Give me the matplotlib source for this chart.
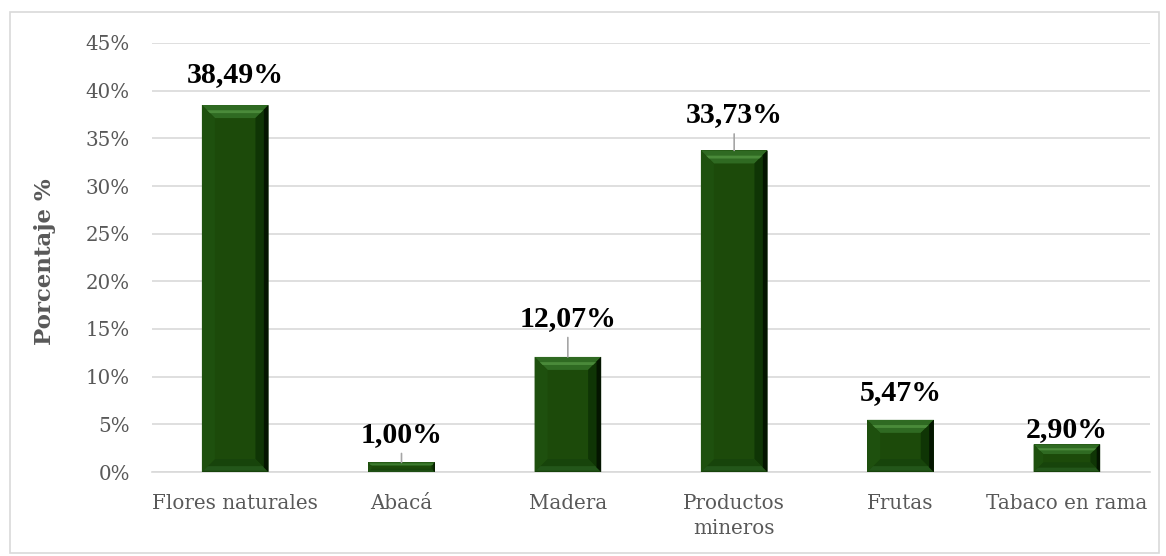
import matplotlib
matplotlib.use("Agg")
import matplotlib.pyplot as plt
from matplotlib.patches import Polygon, Rectangle
from matplotlib.ticker import FuncFormatter, MultipleLocator

# data
CATEGORIES = ["Flores naturales", "Abacá", "Madera", "Productos\nmineros", "Frutas", "Tabaco en rama"]
VALUES = [38.49, 1.00, 12.07, 33.73, 5.47, 2.90]

# label placement (points above the bar top) and which labels get a leader line
LABEL_OFFSETS = [16.5, 14.8, 22.3, 20.2, 14.4, 5.0]
LEADERS = [False, True, True, True, False, False]

GREEN = "#1c4a0a"
GRID = "#d9d9d9"
TEXT_GRAY = "#595959"
TICK_FONT = "DejaVu Serif"
LABEL_FONT = "Liberation Serif"


def bevel(axis, rect, size_px=13):
    x0, y0 = rect.get_xy()
    (X0, Y0), (X1, Y1) = axis.transData.transform([(x0, y0), (x0 + rect.get_width(), y0 + rect.get_height())])
    b = min(size_px, (Y1 - Y0) * 0.35)
    inv = axis.transData.inverted()

    facets = [
        ([(X0, Y1), (X1, Y1), (X1 - b, Y1 - b), (X0 + b, Y1 - b)], "#2f6a22"),
        ([(X1, Y1), (X1, Y0), (X1 - b, Y0 + b), (X1 - b, Y1 - b)], "#0f3505"),
        ([(X0, Y0), (X1, Y0), (X1 - b, Y0 + b), (X0 + b, Y0 + b)], "#17440b"),
        ([(X0, Y1), (X0 + b, Y1 - b), (X0 + b, Y0 + b), (X0, Y0)], "#1e500e"),
        # highlight stripe on the top facet
        ([(X0 + b * 0.4, Y1 - b * 0.4), (X1 - b * 0.4, Y1 - b * 0.4),
          (X1 - b * 0.62, Y1 - b * 0.62), (X0 + b * 0.62, Y1 - b * 0.62)], "#4a8a3a"),
        # lighter band along the bottom edge
        ([(X0 + b * 0.1, Y0 + b * 0.1), (X1 - b * 0.1, Y0 + b * 0.1),
          (X1 - b * 0.45, Y0 + b * 0.45), (X0 + b * 0.45, Y0 + b * 0.45)], "#23561a"),
        # dark outer strip on the right side
        ([(X1, Y1), (X1, Y0), (X1 - b * 0.35, Y0 + b * 0.35), (X1 - b * 0.35, Y1 - b * 0.35)], "#041500"),
    ]
    for pts, color in facets:
        axis.add_patch(Polygon(inv.transform(pts), closed=True, facecolor=color,
                               edgecolor="none", zorder=3))


fig = plt.figure(figsize=(11.66, 5.56), dpi=100)
ax = fig.add_axes([152 / 1166, 1 - 472 / 556, 998 / 1166, 429 / 556])

x = range(len(CATEGORIES))
bars = ax.bar(x, VALUES, width=0.4, color=GREEN, zorder=2)

ax.set_xlim(-0.5, len(CATEGORIES) - 0.5)
ax.set_ylim(0, 45)
ax.yaxis.set_major_locator(MultipleLocator(5))
ax.yaxis.set_major_formatter(FuncFormatter(lambda v, _: f"{v:.0f}%"))
ax.grid(axis="y", color=GRID, linewidth=1.2, zorder=0)
ax.set_axisbelow(True)

for side in ("top", "right", "left"):
    ax.spines[side].set_visible(False)
ax.spines["bottom"].set_color(GRID)
ax.spines["bottom"].set_linewidth(1.2)
ax.spines["bottom"].set_zorder(1)

ax.set_xticks(list(x))
ax.set_xticklabels(CATEGORIES, family=TICK_FONT, fontsize=14.3, color=TEXT_GRAY, linespacing=1.4)
for lab in ax.get_yticklabels():
    lab.set_family(TICK_FONT)
    lab.set_fontsize(14.3)
    lab.set_color(TEXT_GRAY)
ax.tick_params(axis="x", length=0, pad=16)
ax.tick_params(axis="y", length=0, pad=16)

for rect in bars:
    bevel(ax, rect)

for i, (v, off) in enumerate(zip(VALUES, LABEL_OFFSETS)):
    text = f"{v:.2f}".replace(".", ",") + "%"
    arrow = dict(arrowstyle="-", color="#a6a6a6", lw=1.2, shrinkA=2.0, shrinkB=0) if LEADERS[i] else None
    ax.annotate(text, xy=(i, v), xytext=(0, off), textcoords="offset points",
                ha="center", va="baseline", family=LABEL_FONT, fontweight="bold",
                fontsize=21.5, color="black", arrowprops=arrow, zorder=4)

fig.text(45 / 1166, 0.53, "Porcentaje %", rotation=90, ha="center", va="center",
         family=TICK_FONT, fontweight="bold", fontsize=16.5, color=TEXT_GRAY)

fig.patches.append(Rectangle((10 / 1166, 1 - 553 / 556), 1149 / 1166, 541 / 556,
                             transform=fig.transFigure, fill=False, edgecolor=GRID, linewidth=1.2))

fig.savefig("out.png", dpi=100)
